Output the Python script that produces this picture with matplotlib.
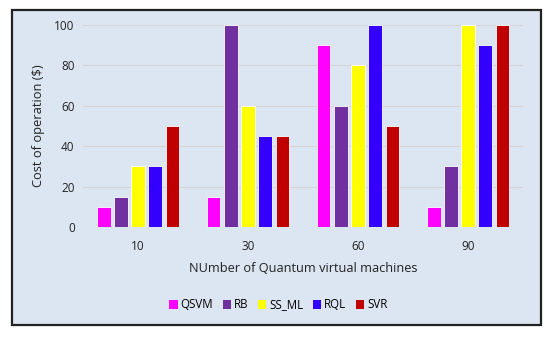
import numpy as np
import matplotlib.pyplot as plt
from matplotlib.patches import Rectangle

# Data
categories = ["10", "30", "60", "90"]
series_names = ["QSVM", "RB", "SS_ML", "RQL", "SVR"]
qsvm = [10, 15, 90, 10]
rb = [15, 100, 60, 30]
ss_ml = [30, 60, 80, 100]
rql = [30, 45, 100, 90]
svr = [50, 45, 50, 100]
yticks = [0, 20, 40, 60, 80, 100]

colors = ["#FF00FF", "#7030A0", "#FFFF00", "#3300FF", "#C00000"]

W, H = 550, 337
fig = plt.figure(figsize=(W / 100, H / 100), dpi=100)
fig.patch.set_facecolor("white")

# chart area box
box = Rectangle((12 / W, 1 - 325 / H), (541 - 12) / W, (325 - 10) / H,
                transform=fig.transFigure, facecolor="#DCE6F2",
                edgecolor="#222222", linewidth=1.6, zorder=-1)
fig.patches.append(box)

ax = fig.add_axes([83 / W, 1 - 227 / H, (523 - 83) / W, (227 - 25) / H])
ax.set_zorder(2)
ax.set_facecolor("none")

font = "Open Sans"
x = np.arange(len(categories))
pitch = 0.155
width = 0.12
values = [qsvm, rb, ss_ml, rql, svr]
for i, (name, vals) in enumerate(zip(series_names, values)):
    ax.bar(x + (i - 2) * pitch, vals, width=width, color=colors[i],
           edgecolor="white", linewidth=0.6, label=name, zorder=3)

ax.set_xlim(-0.5, len(categories) - 0.5)
ax.set_ylim(0, 100)
ax.set_yticks(yticks)
ax.set_xticks(x)
ax.set_xticklabels(categories, fontfamily=font, fontsize=8.5, color="#222222")
for lbl in ax.get_yticklabels():
    lbl.set_fontfamily(font)
    lbl.set_fontsize(8.5)
    lbl.set_color("#222222")
ax.tick_params(axis="y", length=0, pad=6)
ax.tick_params(axis="x", length=0, pad=9)
ax.grid(axis="y", color="#D6D3D3", linewidth=0.8, zorder=0)
for s in ax.spines.values():
    s.set_visible(False)

ax.set_ylabel("Cost of operation ($)", fontfamily=font, fontsize=9.3,
              color="#222222", labelpad=7)
ax.set_xlabel("NUmber of Quantum virtual machines", fontfamily=font,
              fontsize=9.2, color="#222222", labelpad=7)

leg = fig.legend(loc="center", bbox_to_anchor=(0.506, 1 - 305 / H), ncol=5,
                 frameon=False, prop={"family": font, "size": 8.3},
                 handlelength=0.75, handleheight=0.75, handletextpad=0.25,
                 columnspacing=0.8)
leg.set_zorder(3)
for h in leg.legend_handles:
    h.set_edgecolor("none")

fig.savefig("out.png", dpi=100)
